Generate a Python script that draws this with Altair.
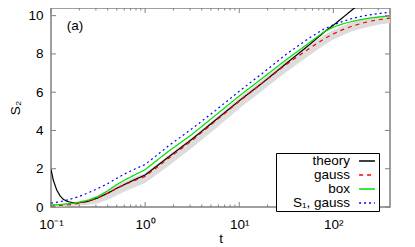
import altair as alt
import pandas as pd

# ---- data ----
t_grid = [0.1, 0.126, 0.158, 0.2, 0.25, 0.316, 0.4, 0.5, 0.63, 0.79, 1.0,
          1.78, 3.16, 5.62, 10.0, 17.8, 31.6, 56.2, 79.4, 100.0, 126.0, 158.0,
          200.0, 251.0, 316.0, 400.0]

gauss = [0.05, 0.08, 0.12, 0.19, 0.30, 0.48, 0.72, 0.97, 1.20, 1.40, 1.60,
         2.55, 3.48, 4.50, 5.52, 6.50, 7.45, 8.30, 8.78, 9.05, 9.27, 9.45,
         9.60, 9.72, 9.80, 9.87]
box = [0.10, 0.13, 0.18, 0.25, 0.36, 0.55, 0.85, 1.17, 1.45, 1.70, 1.95,
       2.92, 3.80, 4.80, 5.80, 6.75, 7.70, 8.60, 9.15, 9.40, 9.57, 9.70,
       9.80, 9.88, 9.94, 9.98]
s1_gauss = [0.20, 0.28, 0.40, 0.55, 0.75, 0.97, 1.22, 1.50, 1.77, 2.00, 2.22,
            3.20, 4.10, 5.05, 6.05, 7.00, 7.98, 8.85, 9.30, 9.52, 9.70, 9.85,
            9.97, 10.05, 10.12, 10.18]
band_lo = [0.00, 0.02, 0.05, 0.08, 0.12, 0.20, 0.38, 0.62, 0.85, 1.05, 1.25,
           2.15, 3.10, 4.10, 5.15, 6.10, 7.05, 7.95, 8.45, 8.75, 8.98, 9.18,
           9.33, 9.45, 9.55, 9.60]
band_hi = [0.12, 0.16, 0.22, 0.30, 0.42, 0.62, 0.88, 1.13, 1.37, 1.58, 1.78,
           2.72, 3.65, 4.67, 5.70, 6.68, 7.63, 8.50, 8.98, 9.25, 9.47, 9.65,
           9.80, 9.92, 10.00, 10.05]

t_theory = [0.1, 0.1057, 0.115, 0.125, 0.135, 0.15, 0.165, 0.18, 0.2, 0.25,
            0.316, 0.4, 0.5, 0.63, 0.79, 1.0, 1.78, 3.16, 5.62, 10.0, 17.8,
            31.6, 56.2, 85.0, 100.0, 126.0, 158.0, 178.0, 200.0]
theory = [1.97, 1.41, 0.89, 0.58, 0.40, 0.29, 0.24, 0.22, 0.23, 0.30,
          0.48, 0.72, 0.98, 1.22, 1.45, 1.67, 2.62, 3.55, 4.55, 5.55, 6.50,
          7.50, 8.50, 9.25, 9.50, 9.90, 10.30, 10.50, 10.70]

series_names = ["theory", "gauss", "box", "S\u2081, gauss"]
series_colors = ["#000000", "#ff0000", "#00dd00", "#0000ff"]
series_dash = [[1, 0], [4, 4], [1, 0], [2, 3]]

x_major = [0.1, 1, 10, 100]
x_minor = [0.2, 0.3, 0.4, 0.5, 0.6, 0.7, 0.8, 0.9,
           2, 3, 4, 5, 6, 7, 8, 9,
           20, 30, 40, 50, 60, 70, 80, 90, 200, 300]
y_major = [0, 2, 4, 6, 8, 10]

# ---- tables ----
rows = []
for t, v in zip(t_theory, theory):
    rows.append({"t": t, "v": v, "series": series_names[0]})
for name, vals in zip(series_names[1:], [gauss, box, s1_gauss]):
    for t, v in zip(t_grid, vals):
        rows.append({"t": t, "v": v, "series": name})
lines_df = pd.DataFrame(rows)
band_df = pd.DataFrame({"t": t_grid, "lo": band_lo, "hi": band_hi})
xmaj_df = pd.DataFrame({"t": x_major})
xmin_df = pd.DataFrame({"t": x_minor})
ymaj_df = pd.DataFrame({"v": y_major})
label_df = pd.DataFrame({"t": [0.18], "v": [9.46], "txt": ["(a)"]})

W, H = 339, 199
FONT = "Liberation Sans"
FS = 13.5
GREY = "#808080"

xs = alt.Scale(type="log", domain=[0.1, 400], nice=False)
ys = alt.Scale(domain=[0, 10.4], nice=False, zero=False)

xaxis = alt.Axis(values=x_major, labelFlush=False, labelPadding=10,
                 labelExpr="datum.value < 0.5 ? '10\u207b\u00b9' : datum.value < 5 ? '10\u2070' : datum.value < 50 ? '10\u00b9' : '10\u00b2'",
                 titlePadding=1)
yaxis = alt.Axis(values=y_major, labelPadding=8, titlePadding=5, format="d")


def X(field="t"):
    return alt.X(f"{field}:Q", scale=xs, axis=xaxis, title="t")


def Y(field):
    return alt.Y(f"{field}:Q", scale=ys, axis=yaxis, title="S\u2082")


band = alt.Chart(band_df).mark_area(color="#dcdcdc", clip=True).encode(
    x=X(), y=Y("lo"), y2="hi:Q")

lines = alt.Chart(lines_df).mark_line(strokeWidth=1.2, clip=True).encode(
    x=X(), y=Y("v"),
    color=alt.Color("series:N",
                    scale=alt.Scale(domain=series_names, range=series_colors),
                    legend=alt.Legend(title=None, orient="none", legendX=225, legendY=145,
                                      symbolType="M-1.3,0H1.3", symbolSize=149, symbolStrokeWidth=1.3,
                                      symbolFillColor="transparent",
                                      labelAlign="right", labelOffset={"expr": "-24"}, symbolOffset=83,
                                      labelFont=FONT, labelFontSize=FS, labelColor="black",
                                      padding=1, rowPadding=0,
                                      strokeColor="black", fillColor="white", cornerRadius=0)),
    strokeDash=alt.StrokeDash("series:N",
                              scale=alt.Scale(domain=series_names, range=series_dash),
                              legend=None),
    detail="series:N")

tick_color = GREY
xb_major = alt.Chart(xmaj_df).mark_rule(color=tick_color, strokeWidth=1).encode(
    x=X(), y=alt.value(H), y2=alt.value(H - 5))
xt_major = alt.Chart(xmaj_df).mark_rule(color=tick_color, strokeWidth=1).encode(
    x=X(), y=alt.value(0), y2=alt.value(5))
xb_minor = alt.Chart(xmin_df).mark_rule(color=tick_color, strokeWidth=1).encode(
    x=X(), y=alt.value(H), y2=alt.value(H - 2.5))
xt_minor = alt.Chart(xmin_df).mark_rule(color=tick_color, strokeWidth=1).encode(
    x=X(), y=alt.value(0), y2=alt.value(2.5))
yl = alt.Chart(ymaj_df).mark_rule(color=tick_color, strokeWidth=1).encode(
    y=Y("v"), x=alt.value(0), x2=alt.value(5))
yr = alt.Chart(ymaj_df).mark_rule(color=tick_color, strokeWidth=1).encode(
    y=Y("v"), x=alt.value(W), x2=alt.value(W - 5))

label = alt.Chart(label_df).mark_text(font=FONT, fontSize=FS, color="black").encode(
    x=X(), y=Y("v"), text="txt:N")

chart = alt.layer(band, lines, xb_major, xt_major, xb_minor, xt_minor, yl, yr, label).properties(
    width=W, height=H,
    autosize=alt.AutoSizeParams(type="none"),
    padding={"left": 43, "top": 0, "right": 17, "bottom": 40},
).configure_view(
    stroke=GREY, strokeWidth=1.5
).configure_axis(
    domain=False, ticks=False, grid=False,
    labelFont=FONT, labelFontSize=FS, labelColor="black",
    titleFont=FONT, titleFontSize=FS, titleFontWeight="normal", titleColor="black"
)

chart.save("out.html", embed_options={"renderer": "svg", "actions": False})
